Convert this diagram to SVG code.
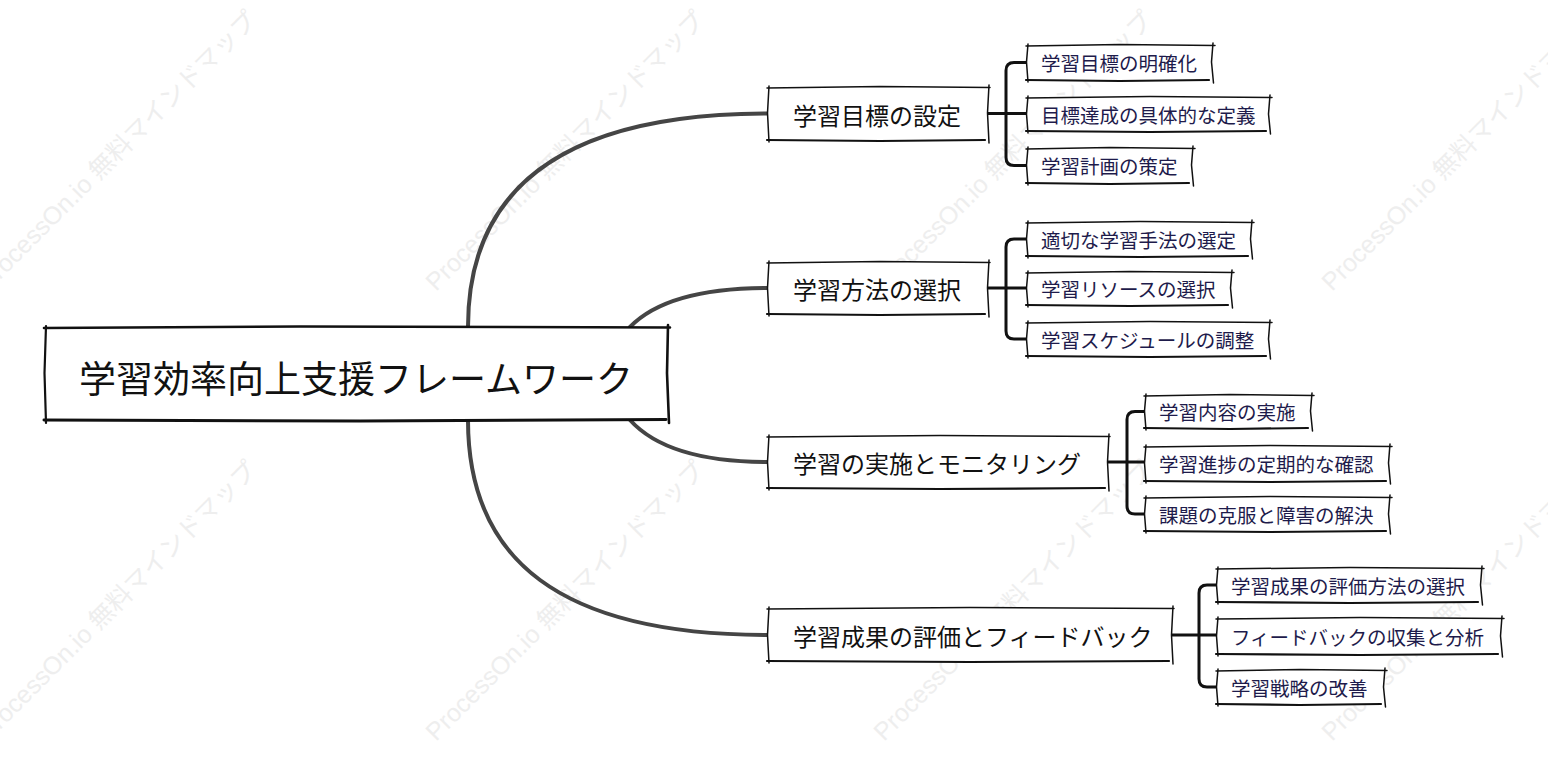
<svg xmlns="http://www.w3.org/2000/svg" width="1548" height="765" viewBox="0 0 1548 765">
<style>
.wm{font-family:"Liberation Sans","Noto Sans CJK JP",sans-serif;font-size:25px;fill:#eeeeee}
.curve{fill:none;stroke:#454545;stroke-width:4;stroke-linecap:round}
.br{fill:none;stroke:#111;stroke-width:3;stroke-linecap:round;stroke-linejoin:round}
.bg{fill:#fff;stroke:none}
.edge{fill:none;stroke:#111;stroke-width:1.5;stroke-linecap:round}
.edgeb{fill:none;stroke:#111;stroke-width:2.2;stroke-linecap:round}
.root-edge{fill:none;stroke:#111;stroke-width:2.6;stroke-linecap:round}
.t0{font-family:"Noto Sans CJK JP",sans-serif;font-size:37px;fill:#111;dominant-baseline:central;text-anchor:middle}
.t1{font-family:"Noto Sans CJK JP",sans-serif;font-size:24px;fill:#111;dominant-baseline:central}
.t2{font-family:"Noto Sans CJK JP",sans-serif;font-size:19.5px;fill:#1e1b4b;dominant-baseline:central}
</style>

<g id="watermarks">
<text class="wm" transform="translate(-12,292) rotate(-45)">ProcessOn.io 無料マインドマップ</text>
<text class="wm" transform="translate(436,292) rotate(-45)">ProcessOn.io 無料マインドマップ</text>
<text class="wm" transform="translate(884,292) rotate(-45)">ProcessOn.io 無料マインドマップ</text>
<text class="wm" transform="translate(1332,292) rotate(-45)">ProcessOn.io 無料マインドマップ</text>
<text class="wm" transform="translate(-12,742) rotate(-45)">ProcessOn.io 無料マインドマップ</text>
<text class="wm" transform="translate(436,742) rotate(-45)">ProcessOn.io 無料マインドマップ</text>
<text class="wm" transform="translate(884,742) rotate(-45)">ProcessOn.io 無料マインドマップ</text>
<text class="wm" transform="translate(1332,742) rotate(-45)">ProcessOn.io 無料マインドマップ</text>
</g>

<g id="connectors">
<path class="curve" d="M468,327 C468,190 560,113.5 768,113.5"/>
<path class="curve" d="M630,327 Q668,288 768,288"/>
<path class="curve" d="M630,420 Q668,462 768,462"/>
<path class="curve" d="M468,420 C468,560 560,635 768,635"/>
<path class="br" d="M988,113.5 H1027"/>
<path class="br" d="M1027,62.5 H1014 Q1006,62.5 1006,70.5 V157.5 Q1006,165.5 1014,165.5 H1027"/>
<path class="br" d="M988,288 H1027"/>
<path class="br" d="M1027,239 H1014 Q1006,239 1006,247 V331 Q1006,339 1014,339 H1027"/>
<path class="br" d="M1108,462 H1145"/>
<path class="br" d="M1145,411.5 H1135 Q1127,411.5 1127,419.5 V506 Q1127,514 1135,514 H1145"/>
<path class="br" d="M1172,635 H1217"/>
<path class="br" d="M1217,585 H1207 Q1199,585 1199,593 V679 Q1199,687 1207,687 H1217"/>
</g>

<g id="root">
<rect class="bg" x="45" y="327" width="623" height="93"/>
<path class="root-edge" d="M44,328 L300,326.5 L670,327.5"/>
<path class="root-edge" d="M668,325 L667,373 L669,423"/>
<path class="root-edge" d="M44,420 L360,421 L666,419.5" style="stroke-width:3"/>
<path class="edgeb" d="M46,326 L44.5,373 L46,423"/>
<text class="t0" x="356" y="377">学習効率向上支援フレームワーク</text>
</g>

<g id="n1">
<rect class="bg" x="768" y="87" width="220" height="53"/>
<path class="edge" d="M767,88 L880,86.5 L990,87.5"/>
<path class="edge" d="M989,85 L987.5,113 L989,143"/>
<path class="edgeb" d="M767,140 L880,141 L985,140"/>
<path class="edge" d="M769,86 L767.5,113 L769,142"/>
<text class="t1" x="793" y="114">学習目標の設定</text>
</g>
<g id="n2">
<rect class="bg" x="768" y="262" width="220" height="52"/>
<path class="edge" d="M767,263 L880,261.5 L990,262.5"/>
<path class="edge" d="M989,260 L987.5,288 L989,317"/>
<path class="edgeb" d="M767,314 L880,315 L985,314"/>
<path class="edge" d="M769,261 L767.5,288 L769,316"/>
<text class="t1" x="793" y="288">学習方法の選択</text>
</g>
<g id="n3">
<rect class="bg" x="768" y="436" width="340" height="52"/>
<path class="edge" d="M767,437 L940,435.5 L1110,436.5"/>
<path class="edge" d="M1109,434 L1107.5,462 L1109,491"/>
<path class="edgeb" d="M767,488 L940,489 L1105,488"/>
<path class="edge" d="M769,435 L767.5,462 L769,490"/>
<text class="t1" x="793" y="462">学習の実施とモニタリング</text>
</g>
<g id="n4">
<rect class="bg" x="768" y="608" width="404" height="53"/>
<path class="edge" d="M767,609 L970,607.5 L1174,608.5"/>
<path class="edge" d="M1173,606 L1171.5,635 L1173,664"/>
<path class="edgeb" d="M767,661 L970,662 L1169,661"/>
<path class="edge" d="M769,607 L767.5,635 L769,663"/>
<text class="t1" x="793" y="635">学習成果の評価とフィードバック</text>
</g>

<g id="c1a">
<rect class="bg" x="1027" y="45" width="186" height="35"/>
<path class="edge" d="M1026,46 L1120,44.5 L1215,45.5"/>
<path class="edge" d="M1213,43 L1211.5,62 L1213.5,83"/>
<path class="edgeb" d="M1026,80 L1120,81 L1209,80"/>
<path class="edge" d="M1028,44 L1026.5,62 L1028,82"/>
<text class="t2" x="1041" y="62.5">学習目標の明確化</text>
</g>
<g id="c1b">
<rect class="bg" x="1027" y="97" width="243" height="34"/>
<path class="edge" d="M1026,98 L1150,96.5 L1272,97.5"/>
<path class="edge" d="M1270,95 L1268.5,114 L1270.5,134"/>
<path class="edgeb" d="M1026,131 L1150,132 L1266,131"/>
<path class="edge" d="M1028,96 L1026.5,114 L1028,133"/>
<text class="t2" x="1041" y="114">目標達成の具体的な定義</text>
</g>
<g id="c1c">
<rect class="bg" x="1027" y="148" width="166" height="35"/>
<path class="edge" d="M1026,149 L1110,147.5 L1195,148.5"/>
<path class="edge" d="M1193,146 L1191.5,165 L1193.5,186"/>
<path class="edgeb" d="M1026,183 L1110,184 L1189,183"/>
<path class="edge" d="M1028,147 L1026.5,165 L1028,185"/>
<text class="t2" x="1041" y="165.5">学習計画の策定</text>
</g>

<g id="c2a">
<rect class="bg" x="1027" y="222" width="225" height="34"/>
<path class="edge" d="M1026,223 L1140,221.5 L1254,222.5"/>
<path class="edge" d="M1252,220 L1250.5,239 L1252.5,259"/>
<path class="edgeb" d="M1026,256 L1140,257 L1248,256"/>
<path class="edge" d="M1028,221 L1026.5,239 L1028,258"/>
<text class="t2" x="1041" y="239">適切な学習手法の選定</text>
</g>
<g id="c2b">
<rect class="bg" x="1027" y="272" width="205" height="33"/>
<path class="edge" d="M1026,273 L1130,271.5 L1234,272.5"/>
<path class="edge" d="M1232,270 L1230.5,288 L1232.5,308"/>
<path class="edgeb" d="M1026,305 L1130,306 L1228,305"/>
<path class="edge" d="M1028,271 L1026.5,288 L1028,307"/>
<text class="t2" x="1041" y="288.5">学習リソースの選択</text>
</g>
<g id="c2c">
<rect class="bg" x="1027" y="322" width="243" height="34"/>
<path class="edge" d="M1026,323 L1150,321.5 L1272,322.5"/>
<path class="edge" d="M1270,320 L1268.5,339 L1270.5,359"/>
<path class="edgeb" d="M1026,356 L1150,357 L1266,356"/>
<path class="edge" d="M1028,321 L1026.5,339 L1028,358"/>
<text class="t2" x="1041" y="339">学習スケジュールの調整</text>
</g>

<g id="c3a">
<rect class="bg" x="1145" y="395" width="167" height="33"/>
<path class="edge" d="M1144,396 L1230,394.5 L1314,395.5"/>
<path class="edge" d="M1312,393 L1310.5,411 L1312.5,431"/>
<path class="edgeb" d="M1144,428 L1230,429 L1308,428"/>
<path class="edge" d="M1146,394 L1144.5,411 L1146,430"/>
<text class="t2" x="1159" y="411.5">学習内容の実施</text>
</g>
<g id="c3b">
<rect class="bg" x="1145" y="446" width="245" height="35"/>
<path class="edge" d="M1144,447 L1270,445.5 L1392,446.5"/>
<path class="edge" d="M1390,444 L1388.5,463 L1390.5,484"/>
<path class="edgeb" d="M1144,481 L1270,482 L1386,481"/>
<path class="edge" d="M1146,445 L1144.5,463 L1146,483"/>
<text class="t2" x="1159" y="463.5">学習進捗の定期的な確認</text>
</g>
<g id="c3c">
<rect class="bg" x="1145" y="497" width="245" height="34"/>
<path class="edge" d="M1144,498 L1270,496.5 L1392,497.5"/>
<path class="edge" d="M1390,495 L1388.5,514 L1390.5,534"/>
<path class="edgeb" d="M1144,531 L1270,532 L1386,531"/>
<path class="edge" d="M1146,496 L1144.5,514 L1146,533"/>
<text class="t2" x="1159" y="514">課題の克服と障害の解決</text>
</g>

<g id="c4a">
<rect class="bg" x="1217" y="568" width="265" height="34"/>
<path class="edge" d="M1216,569 L1350,567.5 L1484,568.5"/>
<path class="edge" d="M1482,566 L1480.5,585 L1482.5,605"/>
<path class="edgeb" d="M1216,602 L1350,603 L1478,602"/>
<path class="edge" d="M1218,567 L1216.5,585 L1218,604"/>
<text class="t2" x="1231" y="585">学習成果の評価方法の選択</text>
</g>
<g id="c4b">
<rect class="bg" x="1217" y="618" width="285" height="36"/>
<path class="edge" d="M1216,619 L1360,617.5 L1504,618.5"/>
<path class="edge" d="M1502,616 L1500.5,636 L1502.5,657"/>
<path class="edgeb" d="M1216,654 L1360,655 L1498,654"/>
<path class="edge" d="M1218,617 L1216.5,636 L1218,656"/>
<text class="t2" x="1231" y="636">フィードバックの収集と分析</text>
</g>
<g id="c4c">
<rect class="bg" x="1217" y="670" width="168" height="34"/>
<path class="edge" d="M1216,671 L1300,669.5 L1387,670.5"/>
<path class="edge" d="M1385,668 L1383.5,687 L1385.5,707"/>
<path class="edgeb" d="M1216,704 L1300,705 L1381,704"/>
<path class="edge" d="M1218,669 L1216.5,687 L1218,706"/>
<text class="t2" x="1231" y="687">学習戦略の改善</text>
</g>
</svg>
